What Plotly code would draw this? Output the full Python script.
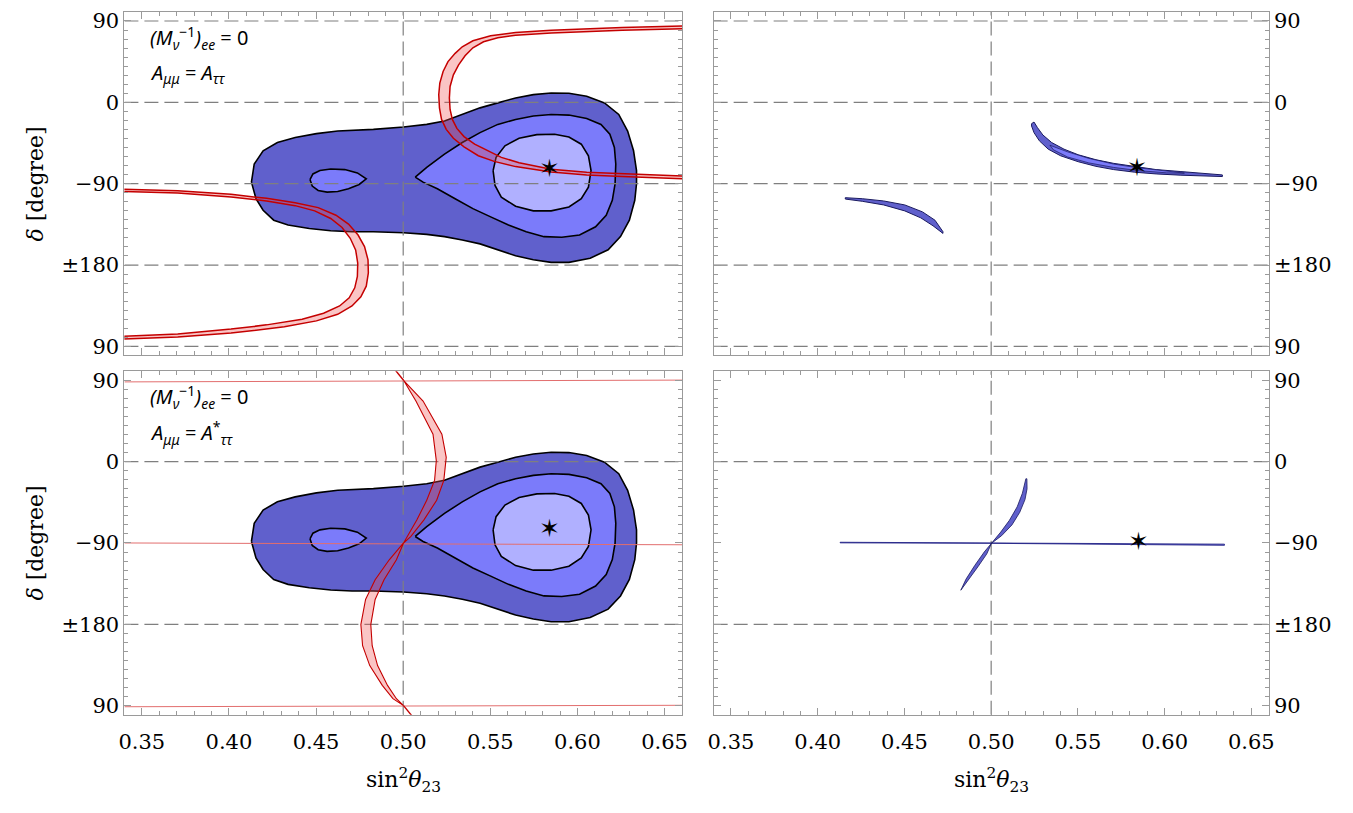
import plotly.graph_objects as go

# ---------------- axes / ticks ----------------
x_range = [0.34, 0.66]
y_range = [-280, 100]
x_tickvals = [0.35, 0.40, 0.45, 0.50, 0.55, 0.60, 0.65]
x_ticktext = ["0.35", "0.40", "0.45", "0.50", "0.55", "0.60", "0.65"]
y_tickvals = [90, 0, -90, -180, -270]
y_ticktext = ["90", "0", "\u221290", "\u00b1180", "90"]
grid_top_y = [90, 0, -90, -180, -270]
grid_bottom_y = [0, -180]
grid_x = [0.5]

# ---------------- left panels: chi2 contours ----------------
outer_x = [0.4129, 0.4145, 0.4196, 0.4278, 0.4380, 0.4502, 0.4624, 0.4829, 0.5002, 0.5135, 0.5237, 0.5339,
           0.5441, 0.5543, 0.5645, 0.5747, 0.5849, 0.5951, 0.6053, 0.6155, 0.6237, 0.6288, 0.6322, 0.6339,
           0.6339, 0.6329, 0.6298, 0.6247, 0.6176, 0.6073, 0.5951, 0.5849, 0.5747, 0.5645, 0.5543, 0.5441,
           0.5339, 0.5237, 0.5135, 0.5002, 0.4829, 0.4706, 0.4584, 0.4461, 0.4339, 0.4257, 0.4196, 0.4155]
outer_y = [-88.3, -68.2, -53.6, -44.5, -39.0, -34.6, -31.7, -29.9, -27.3, -24.4, -20.7, -13.4,
           -6.1, -0.6, 4.9, 8.5, 10.3, 10.0, 6.7, -0.6, -13.4, -31.7, -53.6, -75.5,
           -90.1, -108.4, -130.4, -148.6, -163.2, -172.4, -177.1, -177.1, -174.2, -169.8, -163.2, -156.6,
           -152.3, -148.6, -146.1, -144.2, -143.1, -143.1, -142.0, -139.5, -135.8, -130.4, -119.4, -106.6]

middle_x = [0.5069, 0.5135, 0.5237, 0.5339, 0.5441, 0.5543, 0.5645, 0.5747, 0.5849, 0.5951, 0.6053, 0.6135,
            0.6186, 0.6212, 0.6220, 0.6216, 0.6200, 0.6165, 0.6104, 0.6012, 0.5910, 0.5808, 0.5706, 0.5604,
            0.5502, 0.5400, 0.5298, 0.5196, 0.5114]
middle_y = [-82.8, -71.9, -57.3, -44.5, -33.5, -24.4, -18.9, -15.2, -13.4, -14.1, -17.8, -24.4,
            -35.3, -50.0, -68.2, -90.1, -108.4, -124.9, -137.7, -146.8, -149.3, -148.6, -143.1, -135.8,
            -126.7, -117.6, -106.6, -95.6, -88.3]

island_x = [0.4465, 0.4482, 0.4522, 0.4584, 0.4665, 0.4737, 0.4788, 0.4747, 0.4686, 0.4624, 0.4563, 0.4512, 0.4478]
island_y = [-85.4, -79.2, -75.5, -73.7, -74.4, -78.1, -84.7, -90.9, -95.6, -98.6, -99.3, -97.5, -92.7]

inner_x = [0.5516, 0.5533, 0.5584, 0.5665, 0.5767, 0.5869, 0.5951, 0.6022, 0.6063, 0.6078, 0.6063, 0.6022,
           0.5951, 0.5849, 0.5747, 0.5645, 0.5563, 0.5527]
inner_y = [-75.5, -60.9, -48.1, -39.7, -35.7, -35.3, -38.3, -46.3, -59.1, -75.5, -93.8, -106.6,
           -115.7, -120.1, -120.1, -115.0, -104.8, -92.0]

# best-fit points
star_tl = (0.584, -75.5)
star_tr = (0.584, -74.5)
star_bl = (0.584, -76.0)
star_br = (0.585, -91.0)

# ---------------- top-left red bands ----------------
band1_ax = [0.662, 0.6257, 0.5849, 0.5645, 0.5502, 0.5400, 0.5339, 0.5298, 0.5257, 0.5229, 0.5210, 0.5204,
            0.5208, 0.5220, 0.5247, 0.5288, 0.5349, 0.5431, 0.5522, 0.5645, 0.5849, 0.6053, 0.6257, 0.662]
band1_ay = [84.5, 82.7, 79.8, 77.2, 73.6, 68.1, 61.5, 54.2, 45.1, 34.1, 21.3, 8.5,
            -6.1, -18.9, -29.9, -39.7, -49.2, -59.1, -65.3, -71.1, -77.0, -80.3, -82.1, -84.7]
band1_bx = [0.662, 0.6257, 0.5849, 0.5645, 0.5543, 0.5461, 0.5400, 0.5355, 0.5318, 0.5288, 0.5269, 0.5265,
            0.5269, 0.5282, 0.5308, 0.5349, 0.5410, 0.5482, 0.5563, 0.5665, 0.5849, 0.6053, 0.6257, 0.662]
band1_by = [81.6, 79.8, 76.8, 74.3, 71.4, 67.0, 60.4, 51.6, 41.4, 30.4, 17.6, 4.9,
            -7.9, -18.9, -28.8, -37.9, -46.3, -53.6, -60.9, -66.8, -74.1, -77.3, -79.2, -81.7]

band2_cx = [0.338, 0.3706, 0.4012, 0.4216, 0.4380, 0.4512, 0.4614, 0.4686, 0.4741, 0.4778, 0.4798, 0.4800,
            0.4788, 0.4757, 0.4706, 0.4624, 0.4502, 0.4318, 0.4012, 0.3706, 0.338]
band2_cy = [-96.0, -97.8, -101.8, -106.2, -111.0, -116.5, -124.9, -134.7, -146.8, -159.6, -174.2, -188.8,
            -203.4, -215.1, -225.3, -234.5, -241.8, -248.4, -255.3, -259.7, -261.9]
band2_dx = [0.338, 0.3706, 0.4012, 0.4216, 0.4380, 0.4492, 0.4584, 0.4649, 0.4696, 0.4727, 0.4739, 0.4737,
            0.4722, 0.4690, 0.4635, 0.4543, 0.4420, 0.4216, 0.4012, 0.3706, 0.338]
band2_dy = [-98.6, -100.4, -104.8, -109.1, -114.3, -120.1, -128.5, -138.4, -150.4, -163.2, -177.8, -192.5,
            -205.2, -216.2, -225.3, -233.4, -240.0, -246.2, -250.9, -256.4, -259.0]

# ---------------- bottom-left red curves ----------------
sU_right_x = [0.5002, 0.5114, 0.5222, 0.5247, 0.5233, 0.5192, 0.5118, 0.5043, 0.5002]
sU_right_y = [90, 67.0, 30.4, 4.8, -20.8, -42.8, -64.7, -83.0, -90]
sU_left_x = [0.5002, 0.5073, 0.5171, 0.5190, 0.5180, 0.5135, 0.5078, 0.5002]
sU_left_y = [90, 67.0, 30.4, 1.1, -20.8, -42.8, -64.7, -90]
sL_left_x = [0.5002, 0.4920, 0.4839, 0.4784, 0.4757, 0.4767, 0.4808, 0.4880, 0.4941, 0.5002]
sL_right_x = [0.5002, 0.4961, 0.4890, 0.4839, 0.4814, 0.4822, 0.4853, 0.4910, 0.4961, 0.5002]
sL_y = [-90, -108.6, -130.6, -152.5, -180.3, -203.7, -225.7, -247.6, -262.3, -270]
s_tail_top_x = [0.4945, 0.5002]
s_tail_top_y = [103.5, 90]
s_tail_bot_x = [0.5002, 0.5053]
s_tail_bot_y = [-270, -282]

hline_x = [0.34, 0.66]
hline1_y = [88.2, 90.2]
hline2_y = [-90.0, -92.0]
hline3_y = [-271.2, -269.6]

# ---------------- right panels: allowed regions ----------------
tr1_upper_x = [0.4159, 0.4257, 0.4380, 0.4502, 0.4604, 0.4676, 0.4722]
tr1_upper_y = [-105.5, -106.6, -109.1, -113.5, -121.2, -130.4, -143.1]
tr1_lower_x = [0.4722, 0.4665, 0.4594, 0.4502, 0.4380, 0.4257, 0.4159]
tr1_lower_y = [-145.0, -136.6, -127.8, -120.1, -113.5, -109.5, -107.0]

tr2_upper_x = [0.5233, 0.5247, 0.5267, 0.5298, 0.5349, 0.5420, 0.5502, 0.5604, 0.5706, 0.5828, 0.5951, 0.6094, 0.6237, 0.6333]
tr2_upper_y = [-23.6, -21.8, -28.0, -36.1, -44.5, -51.8, -58.0, -63.5, -67.5, -71.1, -74.4, -76.6, -78.5, -80.3]
tr2_lower_x = [0.6333, 0.6237, 0.6094, 0.5951, 0.5828, 0.5706, 0.5604, 0.5502, 0.5400, 0.5329, 0.5278, 0.5247, 0.5233]
tr2_lower_y = [-82.1, -81.7, -80.6, -79.2, -77.3, -74.4, -70.8, -65.7, -59.1, -51.8, -42.6, -33.5, -26.2]

tr2in_upper_x = [0.5339, 0.5441, 0.5563, 0.5706, 0.5849, 0.6012, 0.6114]
tr2in_upper_y = [-47.5, -54.8, -62.0, -68.3, -72.5, -75.8, -77.5]
tr2in_lower_x = [0.6114, 0.6012, 0.5849, 0.5706, 0.5563, 0.5441, 0.5359]
tr2in_lower_y = [-78.3, -78.0, -75.5, -72.0, -67.0, -60.5, -52.5]

br_h_upper_x = [0.4129, 0.5002, 0.5849, 0.6345]
br_h_upper_y = [-89.2, -89.8, -90.6, -91.3]
br_h_lower_x = [0.6345, 0.5849, 0.5002, 0.4129]
br_h_lower_y = [-92.6, -91.8, -90.4, -89.9]

br_d_left_x = [0.4825, 0.4855, 0.4905, 0.4960, 0.5002, 0.5055, 0.5105, 0.5150, 0.5180, 0.5200]
br_d_left_y = [-142.3, -130.0, -115.0, -100.0, -90.3, -78.0, -65.0, -50.0, -35.0, -19.0]
br_d_right_x = [0.5206, 0.5207, 0.5195, 0.5165, 0.5120, 0.5060, 0.5002, 0.4975, 0.4925, 0.4862, 0.4825]
br_d_right_y = [-19.0, -30.0, -42.0, -56.0, -70.0, -82.0, -90.3, -102.0, -116.0, -132.0, -142.3]

# ---------------- styles ----------------
C_OUTER = "rgb(96,96,204)"
C_MID = "rgb(123,123,250)"
C_INNER = "rgb(176,176,255)"
C_RED = "rgb(196,0,0)"
C_PINK = "rgba(240,80,80,0.33)"
C_GRID = "#7f7f7f"
C_FRAME = "#9a9a9a"
FONT = "DejaVu Serif"
DASH = "14px,6px"

fig = go.Figure()


def poly(xs, ys, fill, line_color="black", lw=1.6, xa="x", ya="y"):
    fig.add_trace(go.Scatter(x=list(xs) + [xs[0]], y=list(ys) + [ys[0]], mode="lines", fill="toself",
                             fillcolor=fill, line=dict(color=line_color, width=lw),
                             hoverinfo="skip", xaxis=xa, yaxis=ya))


def line(xs, ys, color, lw, xa, ya, dash=None):
    fig.add_trace(go.Scatter(x=xs, y=ys, mode="lines", line=dict(color=color, width=lw, dash=dash),
                             hoverinfo="skip", xaxis=xa, yaxis=ya))


def grid(xa, ya, ys):
    for gy in ys:
        line(x_range, [gy, gy], C_GRID, 1.2, xa, ya, DASH)
    for gx in grid_x:
        line([gx, gx], y_range, C_GRID, 1.2, xa, ya, DASH)


def star(p, xa, ya):
    fig.add_trace(go.Scatter(x=[p[0]], y=[p[1]], mode="text", text=["\u2736"],
                             textfont=dict(size=25, color="black", family="DejaVu Sans"),
                             textposition="middle center", hoverinfo="skip", xaxis=xa, yaxis=ya))


# ---- top-left ----
for xa, ya in [("x", "y"), ("x3", "y3")]:
    poly(outer_x, outer_y, C_OUTER, xa=xa, ya=ya)
    poly(middle_x, middle_y, C_MID, xa=xa, ya=ya)
    poly(island_x, island_y, C_MID, xa=xa, ya=ya)
    poly(inner_x, inner_y, C_INNER, xa=xa, ya=ya)

grid("x", "y", grid_top_y)
poly(band1_ax + band1_bx[::-1], band1_ay + band1_by[::-1], C_PINK, C_RED, 1.5)
poly(band2_cx + band2_dx[::-1], band2_cy + band2_dy[::-1], C_PINK, C_RED, 1.5)
star(star_tl, "x", "y")

# ---- bottom-left ----
grid("x3", "y3", grid_bottom_y)
line(hline_x, hline1_y, "rgb(226,110,110)", 1.0, "x3", "y3")
line(hline_x, hline2_y, "rgb(226,110,110)", 1.0, "x3", "y3")
line(hline_x, hline3_y, "rgb(226,110,110)", 1.0, "x3", "y3")
poly(sU_right_x + sU_left_x[::-1], sU_right_y + sU_left_y[::-1], C_PINK, C_RED, 1.1, "x3", "y3")
poly(sL_left_x + sL_right_x[::-1], sL_y + sL_y[::-1], C_PINK, C_RED, 1.1, "x3", "y3")
line(s_tail_top_x, s_tail_top_y, C_RED, 1.4, "x3", "y3")
line(s_tail_bot_x, s_tail_bot_y, C_RED, 1.4, "x3", "y3")
star(star_bl, "x3", "y3")

# ---- top-right ----
grid("x2", "y2", grid_top_y)
poly(tr1_upper_x + tr1_lower_x, tr1_upper_y + tr1_lower_y, C_OUTER, "#1a1a60", 1.0, "x2", "y2")
poly(tr2_upper_x + tr2_lower_x, tr2_upper_y + tr2_lower_y, C_OUTER, "#1a1a60", 1.0, "x2", "y2")
poly(tr2in_upper_x + tr2in_lower_x, tr2in_upper_y + tr2in_lower_y, C_MID, "#1a1a60", 0.7, "x2", "y2")
star(star_tr, "x2", "y2")

# ---- bottom-right ----
grid("x4", "y4", grid_bottom_y)
poly(br_h_upper_x + br_h_lower_x, br_h_upper_y + br_h_lower_y, C_OUTER, "#1a1a80", 0.8, "x4", "y4")
poly(br_d_left_x + br_d_right_x, br_d_left_y + br_d_right_y, C_OUTER, "#1a1a60", 0.8, "x4", "y4")
star(star_br, "x4", "y4")

# ---------------- layout ----------------
dom_left = [0.0883, 0.5041]
dom_right = [0.5277, 0.9416]
dom_top = [0.5633, 0.9889]
dom_bot = [0.1181, 0.5437]


def xax(domain, anchor, labels):
    return dict(domain=domain, anchor=anchor, range=x_range, tickmode="array", tickvals=x_tickvals,
                ticktext=x_ticktext, showticklabels=labels, ticks="inside", ticklen=7, tickwidth=1,
                tickcolor=C_FRAME, showline=True, linecolor=C_FRAME, linewidth=1, mirror="allticks",
                showgrid=False, zeroline=False, ticklabelstandoff=8,
                tickfont=dict(family=FONT, size=21, color="black"),
                minor=dict(ticks="inside", tickmode="linear", tick0=0.34, dtick=0.01, ticklen=4,
                           tickcolor=C_FRAME, showgrid=False))


def yax(domain, anchor, side):
    return dict(domain=domain, anchor=anchor, range=y_range, tickmode="array", tickvals=y_tickvals,
                ticktext=y_ticktext, side=side, ticks="inside", ticklen=7, tickwidth=1,
                tickcolor=C_FRAME, showline=True, linecolor=C_FRAME, linewidth=1, mirror="allticks",
                showgrid=False, zeroline=False,
                tickfont=dict(family=FONT, size=21, color="black"),
                minor=dict(ticks="inside", tickmode="linear", tick0=0, dtick=10, ticklen=4,
                           tickcolor=C_FRAME, showgrid=False))


fig.update_layout(
    width=1353, height=813, margin=dict(l=0, r=0, t=0, b=0),
    paper_bgcolor="white", plot_bgcolor="white", showlegend=False,
    xaxis=xax(dom_left, "y", False), yaxis=yax(dom_top, "x", "left"),
    xaxis2=xax(dom_right, "y2", False), yaxis2=yax(dom_top, "x2", "right"),
    xaxis3=xax(dom_left, "y3", True), yaxis3=yax(dom_bot, "x3", "left"),
    xaxis4=xax(dom_right, "y4", True), yaxis4=yax(dom_bot, "x4", "right"),
)

ann_font = dict(family="Noto Sans", size=20, color="black")
title_font = dict(family=FONT, size=22, color="black")
line1 = "<i>(M</i><sub><i>\u03bd</i></sub><sup>\u22121</sup><i>)</i><sub><i>ee</i></sub> = 0"
line2_top = "<i>A</i><sub><i>\u03bc\u03bc</i></sub> = <i>A</i><sub><i>\u03c4\u03c4</i></sub>"
line2_bot = "<i>A</i><sub><i>\u03bc\u03bc</i></sub> = <i>A</i><sup>*</sup><sub><i>\u03c4\u03c4</i></sub>"
annotations = [
    dict(text=line1, x=0.106, y=1 - 35 / 813, xref="paper", yref="paper", xanchor="left", yanchor="middle",
         showarrow=False, font=ann_font),
    dict(text=line2_top, x=0.106, y=1 - 71 / 813, xref="paper", yref="paper", xanchor="left", yanchor="middle",
         showarrow=False, font=ann_font),
    dict(text=line1, x=0.106, y=1 - 397 / 813, xref="paper", yref="paper", xanchor="left", yanchor="middle",
         showarrow=False, font=ann_font),
    dict(text=line2_bot, x=0.106, y=1 - 433 / 813, xref="paper", yref="paper", xanchor="left", yanchor="middle",
         showarrow=False, font=ann_font),
    dict(text="<i>\u03b4</i> [degree]", x=30 / 1353, y=0.776, xref="paper", yref="paper", textangle=-90,
         xanchor="center", yanchor="middle", showarrow=False, font=title_font),
    dict(text="<i>\u03b4</i> [degree]", x=30 / 1353, y=0.331, xref="paper", yref="paper", textangle=-90,
         xanchor="center", yanchor="middle", showarrow=False, font=title_font),
    dict(text="sin<sup>2</sup><i>\u03b8</i><sub>23</sub>", x=401 / 1353, y=1 - 783 / 813, xref="paper", yref="paper",
         xanchor="center", yanchor="middle", showarrow=False, font=title_font),
    dict(text="sin<sup>2</sup><i>\u03b8</i><sub>23</sub>", x=994 / 1353, y=1 - 783 / 813, xref="paper", yref="paper",
         xanchor="center", yanchor="middle", showarrow=False, font=title_font),
]
fig.update_layout(annotations=annotations)

fig.write_html("out.html")
